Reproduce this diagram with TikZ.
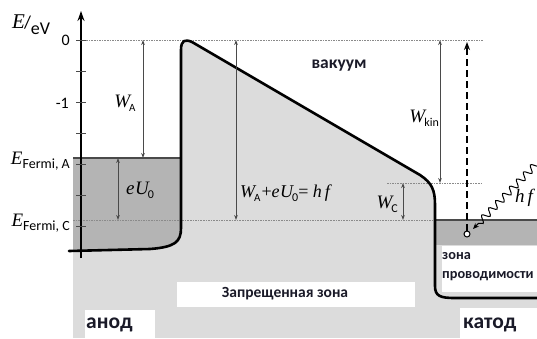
\documentclass[tikz,border=0pt]{standalone}
\usepackage{fontspec}
\setmainfont{Liberation Serif}
\newfontfamily\sansf{Carlito}
\usetikzlibrary{arrows.meta,decorations.pathmorphing}
\definecolor{lightg}{HTML}{DCDCDC}
\definecolor{darkg}{HTML}{B4B4B4}
\definecolor{linec}{HTML}{4A4A4A}
\definecolor{guidec}{HTML}{8A8A8A}
\definecolor{txtc}{HTML}{1A1A28}
\newcommand{\fsz}[1]{\fontsize{#1}{#1}\selectfont}
\begin{document}
\begin{tikzpicture}[x=1pt,y=-1pt,
  barrier/.style={line width=2.6pt,line join=round,line cap=round},
  dimarrow/.style={line width=0.8pt,draw=linec,{Stealth[length=5pt,width=3.6pt]}-{Stealth[length=5pt,width=3.6pt]}},
  guide/.style={line width=0.7pt,draw=guidec,dash pattern=on 1.6pt off 1pt},
  tick/.style={line width=0.9pt,draw=linec},
  sym/.style={inner sep=0pt,font=\fsz{19}\itshape},
  lbl/.style={inner sep=0pt,font=\sansf\bfseries\fsz{16},text=txtc},
  bigl/.style={inner sep=0pt,font=\sansf\bfseries\fsz{21.5},text=txtc},
  num/.style={inner sep=0pt,font=\sansf\fsz{16}}]
\useasboundingbox (0,0) rectangle (537,338);
% backgrounds
\fill[lightg] (73,220) rectangle (537,338);
\fill[lightg] (181,222) -- (181,50) .. controls (181,40) and (185,39) .. (192,42) -- (420,175) .. controls (432,183) and (435,190) .. (435,205) -- (435,222) -- cycle;
\fill[darkg] (73,158) -- (181,158) -- (181,230) .. controls (181,245) and (172,248) .. (150,249) -- (73,251) -- cycle;
\fill[darkg] (435,220) rectangle (537,245);
\fill[white] (442,246) rectangle (537,292);
\fill[white] (177,282) rectangle (415,307);
\fill[white] (85,310) rectangle (155,338);
\fill[white] (460,308) rectangle (537,338);
% guide lines
\coordinate (g0a) at (81,40); \coordinate (g0b) at (483,40);
\coordinate (gca) at (73,220); \coordinate (gcb) at (435,220);
\coordinate (gka) at (387,183); \coordinate (gkb) at (483,183);
\draw[guide] (g0a) -- (g0b);
\draw[guide] (gca) -- (gcb);
\draw[guide] (gka) -- (gkb);
\coordinate (fa1) at (73,158); \coordinate (fa2) at (181,158);
\draw[line width=1.3pt,draw=linec] (fa1) -- (fa2);
\coordinate (fc1) at (435,220); \coordinate (fc2) at (537,220);
\draw[line width=1.3pt,draw=linec] (fc1) -- (fc2);
% barrier
\draw[barrier] (69,251) -- (150,249) .. controls (175,247) and (181,242) .. (181,228) -- (181,50) .. controls (181,40) and (185,39) .. (192,42) -- (420,175) .. controls (432,183) and (435,190) .. (435,205) -- (435,286) .. controls (435,296) and (440,298) .. (455,298) -- (537,298);
% axis
\coordinate (axb) at (81,258); \coordinate (axt) at (81,11);
\draw[line width=1.5pt,-{Stealth[length=10pt,width=7pt]}] (axb) -- (axt);
\foreach \t in {40,71,102,133,164,195,226} {\draw[tick] (76,\t) -- (86,\t);}
\node[num,anchor=east] (n0) at (70,40) {0};
\node[num,anchor=east] (n1) at (69,103) {-1};
\node[inner sep=0pt,anchor=base west] (ev) at (12,28) {\fsz{21}\itshape E\kern-1pt\fsz{18}\sansf\upshape/\raisebox{-6pt}{eV}};
\node[inner sep=0pt,anchor=base east] (efa) at (70,164) {\fsz{19}\itshape E\raisebox{-4.5pt}{\sansf\upshape\fsz{14}Fermi, A}};
\node[inner sep=0pt,anchor=base east] (efc) at (70,226) {\fsz{19}\itshape E\raisebox{-4.5pt}{\sansf\upshape\fsz{14}Fermi, C}};
% dimension arrows
\coordinate (wa1) at (143,40); \coordinate (wa2) at (143,158);
\draw[dimarrow] (wa1) -- (wa2);
\node[sym] (wal) at (125,103) {W\kern-1pt\raisebox{-4pt}{\sansf\upshape\fsz{11}A}};
\coordinate (eu1) at (118,158); \coordinate (eu2) at (118,220);
\draw[dimarrow] (eu1) -- (eu2);
\node[sym] (eul) at (140,190) {e\kern0.5pt U\kern-1pt\raisebox{-4pt}{\sansf\upshape\fsz{12}0}};
\coordinate (bg1) at (236,40); \coordinate (bg2) at (236,220);
\draw[dimarrow] (bg1) -- (bg2);
\node[sym,anchor=west,font=\fsz{18}\itshape] (bgl) at (240,193) {W\kern-1pt\raisebox{-4pt}{\sansf\upshape\fsz{11}A}\kern1pt\upshape+\itshape e\kern0.5pt U\kern-1pt\raisebox{-4pt}{\sansf\upshape\fsz{12}0}\upshape= \itshape h\kern3pt f};
\coordinate (wk1) at (440,40); \coordinate (wk2) at (440,183);
\draw[dimarrow] (wk1) -- (wk2);
\node[sym,anchor=east] (wkl) at (439,118) {W\kern-1pt\raisebox{-4pt}{\sansf\upshape\fsz{12}kin}};
\coordinate (wc1) at (403,183); \coordinate (wc2) at (403,220);
\draw[dimarrow] (wc1) -- (wc2);
\node[sym,anchor=east] (wcl) at (398,204) {W\kern-1pt\raisebox{-4pt}{\sansf\upshape\fsz{12}C}};
% electron and photon
\node[circle,draw,fill=white,inner sep=0pt,minimum size=6pt,line width=1pt] (el) at (467,234) {};
\coordinate (top) at (467,42);
\draw[line width=1.6pt,dash pattern=on 7pt off 4pt,-{Stealth[length=8pt,width=6pt]}] (el) -- (top);
\coordinate (ph) at (540,160);
\draw[line width=1pt,decorate,decoration={snake,segment length=10pt,amplitude=3.5pt,pre length=2pt,post length=7pt},-{Stealth[length=6pt,width=5pt]}] (ph) -- (473,229);
\node[sym,anchor=west,font=\fsz{19}\itshape] (hf) at (515,198) {h\kern3pt f};
% texts
\node[lbl,font=\sansf\bfseries\fsz{17.5}] (vac) at (339,66) {вакуум};
\node[lbl,font=\sansf\bfseries\fsz{15.5}] (gap) at (285,294) {Запрещенная зона};
\node[bigl,anchor=west] (an) at (86,325) {анод};
\node[bigl,anchor=west] (ka) at (463,325) {катод};
\node[lbl,anchor=west,font=\sansf\bfseries\fsz{14.3}] (z1) at (442,256) {зона};
\node[lbl,anchor=west,font=\sansf\bfseries\fsz{14.3}] (z2) at (442,276) {проводимости};
\end{tikzpicture}
\end{document}
